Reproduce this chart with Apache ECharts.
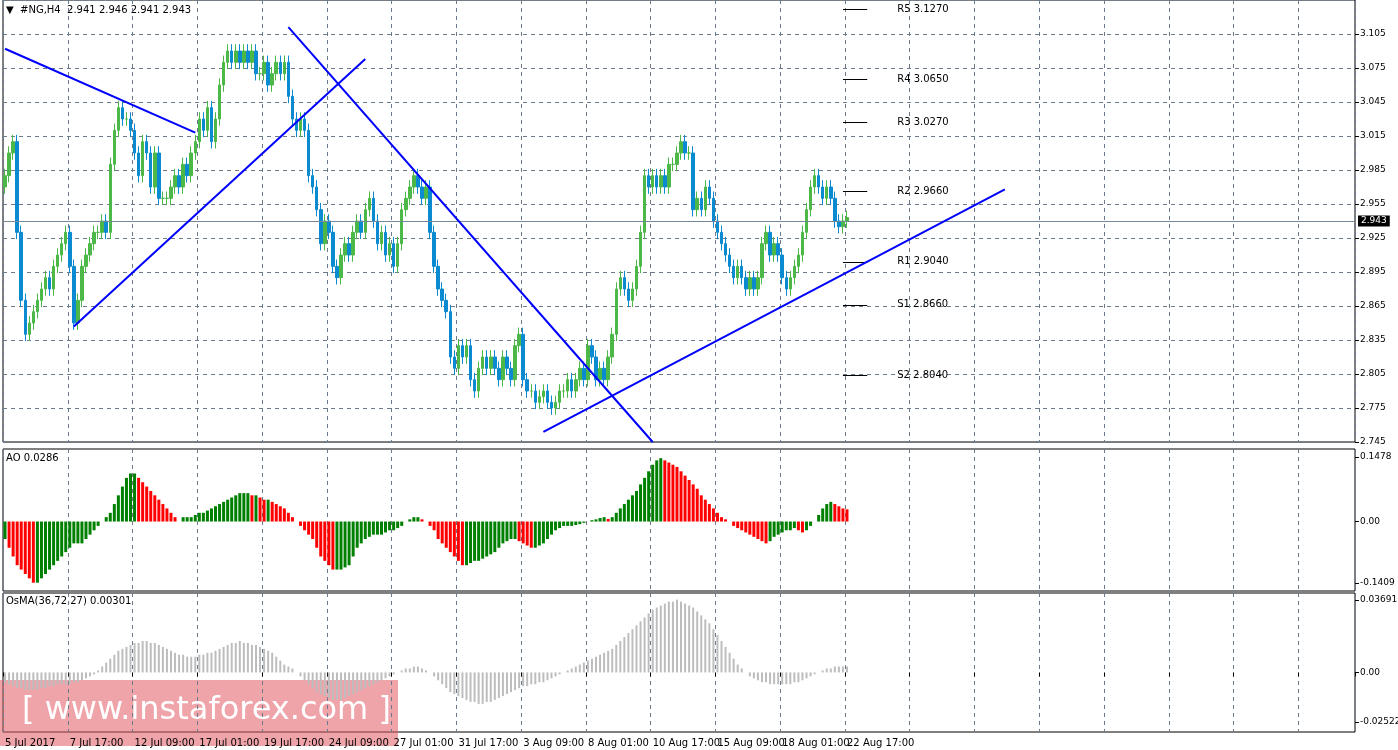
<!DOCTYPE html>
<html>
<head>
<meta charset="utf-8">
<script src="https://cdn.jsdelivr.net/npm/echarts@6/dist/echarts.min.js"></script>
<style>html,body{margin:0;padding:0;background:#fff}#main{width:1398px;height:750px}</style>
</head>
<body>
<div id="main"></div>
<script>
// 收盘价 (H4)
var closes = [
	2.98, 3.00, 3.01, 2.93, 2.87, 2.84, 2.85, 2.86, 2.87, 2.88,
	2.89, 2.88, 2.90, 2.91, 2.92, 2.93, 2.90, 2.85, 2.87, 2.90,
	2.91, 2.92, 2.93, 2.93, 2.94, 2.93, 2.99, 3.02, 3.04, 3.03,
	3.03, 3.02, 3.00, 2.98, 3.01, 3.00, 2.97, 3.00, 2.96, 2.96,
	2.96, 2.97, 2.98, 2.97, 2.99, 2.98, 3.00, 3.01, 3.03, 3.02,
	3.04, 3.01, 3.03, 3.06, 3.08, 3.09, 3.08, 3.09, 3.08, 3.09,
	3.08, 3.09, 3.07, 3.07, 3.08, 3.06, 3.07, 3.08, 3.07, 3.08,
	3.05, 3.03, 3.02, 3.03, 3.02, 2.98, 2.97, 2.95, 2.92, 2.94,
	2.93, 2.90, 2.89, 2.91, 2.92, 2.91, 2.93, 2.94, 2.93, 2.95,
	2.96, 2.94, 2.92, 2.93, 2.91, 2.92, 2.90, 2.92, 2.95, 2.96,
	2.97, 2.98, 2.97, 2.96, 2.97, 2.93, 2.90, 2.88, 2.87, 2.86,
	2.82, 2.81, 2.83, 2.82, 2.83, 2.80, 2.79, 2.81, 2.82, 2.81,
	2.82, 2.81, 2.80, 2.82, 2.81, 2.80, 2.83, 2.84, 2.80, 2.79,
	2.79, 2.78, 2.785, 2.79, 2.78, 2.775, 2.78, 2.79, 2.79, 2.80,
	2.79, 2.80, 2.81, 2.80, 2.83, 2.82, 2.80, 2.81, 2.80, 2.82,
	2.84, 2.88, 2.89, 2.88, 2.87, 2.88, 2.90, 2.93, 2.98, 2.97,
	2.98, 2.97, 2.98, 2.97, 2.99, 2.99, 3.00, 3.01, 3.00, 3.00,
	2.95, 2.96, 2.95, 2.97, 2.96, 2.94, 2.93, 2.92, 2.91, 2.90,
	2.89, 2.90, 2.89, 2.88, 2.89, 2.88, 2.89, 2.92, 2.93, 2.91,
	2.92, 2.91, 2.89, 2.88, 2.89, 2.90, 2.91, 2.93, 2.95, 2.97,
	2.98, 2.97, 2.96, 2.97, 2.96, 2.94, 2.935, 2.94, 2.943
];
var aoValues = [
	-0.04,-0.06,-0.08,-0.10,-0.11,-0.12,-0.13,-0.14,-0.14,-0.13,
	-0.12,-0.11,-0.10,-0.09,-0.08,-0.07,-0.06,-0.05,-0.05,-0.05,
	-0.04,-0.03,-0.02,-0.01,0.00,0.01,0.02,0.04,0.06,0.08,
	0.10,0.11,0.11,0.10,0.09,0.08,0.07,0.06,0.05,0.04,
	0.03,0.02,0.01,0.00,0.01,0.01,0.01,0.015,0.02,0.02,
	0.025,0.03,0.035,0.04,0.045,0.05,0.055,0.06,0.065,0.065,
	0.065,0.06,0.06,0.055,0.05,0.05,0.045,0.04,0.035,0.03,
	0.02,0.01,0.00,-0.01,-0.02,-0.03,-0.04,-0.06,-0.08,-0.09,
	-0.10,-0.11,-0.11,-0.11,-0.105,-0.10,-0.08,-0.06,-0.05,-0.04,
	-0.035,-0.03,-0.03,-0.03,-0.025,-0.02,-0.02,-0.015,-0.01,0.00,
	0.005,0.01,0.01,0.005,0.00,-0.01,-0.02,-0.04,-0.05,-0.06,
	-0.07,-0.08,-0.09,-0.10,-0.10,-0.095,-0.09,-0.09,-0.085,-0.08,
	-0.075,-0.07,-0.06,-0.05,-0.045,-0.04,-0.04,-0.045,-0.05,-0.055,
	-0.06,-0.06,-0.055,-0.05,-0.04,-0.03,-0.02,-0.015,-0.01,-0.01,
	-0.01,-0.008,-0.006,-0.003,0.00,0.003,0.005,0.008,0.01,0.006,
	0.01,0.02,0.03,0.04,0.05,0.06,0.07,0.085,0.10,0.115,
	0.13,0.14,0.145,0.14,0.135,0.13,0.125,0.115,0.105,0.095,
	0.085,0.075,0.06,0.05,0.04,0.03,0.02,0.01,0.005,0.00,
	-0.01,-0.015,-0.02,-0.025,-0.03,-0.035,-0.04,-0.045,-0.05,-0.045,
	-0.035,-0.03,-0.025,-0.02,-0.02,-0.015,-0.02,-0.025,-0.02,-0.01,
	0.00,0.015,0.03,0.04,0.045,0.04,0.035,0.03,0.028
];
var osmaValues = [
	-0.005,-0.006,-0.007,-0.008,-0.008,-0.009,-0.009,-0.009,-0.009,-0.008,
	-0.008,-0.007,-0.007,-0.006,-0.006,-0.006,-0.006,-0.005,-0.005,-0.004,
	-0.003,-0.002,-0.001,0.001,0.003,0.005,0.007,0.009,0.011,0.012,
	0.013,0.014,0.015,0.015,0.016,0.016,0.015,0.015,0.014,0.013,
	0.012,0.011,0.010,0.009,0.009,0.008,0.008,0.008,0.009,0.009,
	0.010,0.010,0.011,0.012,0.013,0.014,0.015,0.015,0.016,0.015,
	0.015,0.014,0.014,0.013,0.012,0.011,0.010,0.008,0.006,0.004,
	0.003,0.002,0.000,-0.002,-0.004,-0.006,-0.008,-0.010,-0.011,-0.012,
	-0.013,-0.014,-0.014,-0.014,-0.013,-0.012,-0.011,-0.010,-0.009,-0.008,
	-0.007,-0.006,-0.005,-0.004,-0.003,-0.002,-0.001,0.000,0.001,0.002,
	0.002,0.003,0.003,0.002,0.001,0.000,-0.002,-0.004,-0.006,-0.008,
	-0.010,-0.011,-0.012,-0.013,-0.014,-0.015,-0.015,-0.016,-0.016,-0.015,
	-0.015,-0.014,-0.013,-0.012,-0.011,-0.010,-0.009,-0.008,-0.007,-0.007,
	-0.006,-0.006,-0.005,-0.005,-0.004,-0.003,-0.002,-0.001,0.000,0.001,
	0.002,0.003,0.004,0.005,0.006,0.007,0.008,0.009,0.010,0.011,
	0.012,0.014,0.016,0.018,0.020,0.022,0.024,0.026,0.028,0.030,
	0.032,0.033,0.034,0.035,0.036,0.036,0.037,0.036,0.035,0.034,
	0.033,0.031,0.029,0.027,0.025,0.022,0.019,0.016,0.013,0.010,
	0.007,0.004,0.002,0.000,-0.002,-0.003,-0.004,-0.005,-0.005,-0.006,
	-0.006,-0.006,-0.006,-0.006,-0.006,-0.005,-0.005,-0.004,-0.003,-0.002,
	-0.001,0.000,0.001,0.002,0.002,0.003,0.003,0.003,0.003
];
// 每16根K线一个时间标签
var dateLabels = ['5 Jul 2017', '7 Jul 17:00', '12 Jul 09:00', '17 Jul 01:00', '19 Jul 17:00',
	'24 Jul 09:00', '27 Jul 01:00', '31 Jul 17:00', '3 Aug 09:00', '8 Aug 01:00',
	'10 Aug 17:00', '15 Aug 09:00', '18 Aug 01:00', '22 Aug 17:00'];
var pivotNames = ['R5', 'R4', 'R3', 'R2', 'R1', 'S1', 'S2', 'S3'];
var pivotValues = [3.1270, 3.0650, 3.0270, 2.9660, 2.9040, 2.8660, 2.8040, 2.7420];
var trendLines = [
	[[0, 3.092], [47.4, 3.018]],
	[[17, 2.847], [89.4, 3.083]],
	[[69.6, 3.111], [159.8, 2.745]],
	[[133.3, 2.754], [247, 2.968]]
];
var lastPrice = 2.943;

var TOTAL = 334;
var cats = [];
for (var i = 0; i < TOTAL; i++) cats.push(i);

var candles = closes.map(function(c, i) {
	var o = i === 0 ? c - 0.01 : closes[i - 1];
	return [o, c, Math.min(o, c) - 0.006, Math.max(o, c) + 0.006];
});
var aoData = aoValues.map(function(v, i) {
	var up = i === 0 || v >= aoValues[i - 1];
	return { value: v, itemStyle: { color: up ? '#008000' : '#ff0000' } };
});

var font = 'DejaVu Sans';
var gridCol = '#6b7b8b';
var lbl = { color: '#000', fontSize: 9, fontFamily: font };

function xAx(idx, showLabels) {
	return {
		type: 'category', gridIndex: idx, data: cats, boundaryGap: true,
		axisLine: { show: false },
		axisTick: { show: showLabels, interval: 15, length: 4, lineStyle: { color: '#000' } },
		axisLabel: showLabels ? {
			show: true, interval: 15, align: 'left', margin: 6, color: '#000', fontSize: 10, fontFamily: font,
			formatter: function(v, n) { return dateLabels[n / 16] || ''; }
		} : { show: false },
		splitLine: { show: true, interval: 15, lineStyle: { color: gridCol, type: [4, 4] } }
	};
}
function yAx(idx, min, max, vals, txt) {
	return {
		type: 'value', gridIndex: idx, position: 'right', min: min, max: max, scale: true,
		axisLine: { show: false },
		axisTick: { show: true, customValues: vals, length: 4, lineStyle: { color: '#000' } },
		axisLabel: Object.assign({ customValues: vals, margin: 5, formatter: function(v) {
			return txt[vals.indexOf(v)] || '';
		} }, lbl),
		splitLine: { show: false }
	};
}

var chart = echarts.init(document.getElementById('main'));
var pivotLines = pivotValues.map(function(v, i) {
	return [{ coord: [207, v], lineStyle: { color: '#000', width: 1, type: 'solid' },
		label: { show: true, position: 'end', distance: 30, padding: [12, 0, 0, 0],
		formatter: pivotNames[i] + ' ' + v.toFixed(4), color: '#000', fontSize: 10, fontFamily: font } },
		{ coord: [212.5, v] }];
});
var trendData = trendLines.map(function(l) {
	return [{ coord: l[0], lineStyle: { color: '#0000ff', width: 2, type: 'solid' }, label: { show: false } }, { coord: l[1] }];
});

var gridBase = { left: 3, width: 1352, show: true, borderColor: '#000', borderWidth: 1, outerBoundsMode: 'none', containLabel: false };
chart.setOption({
	animation: false,
	backgroundColor: '#fff',
	grid: [
		Object.assign({ top: 0, height: 442 }, gridBase),
		Object.assign({ top: 449, height: 142 }, gridBase),
		Object.assign({ top: 593, height: 139 }, gridBase)
	],
	xAxis: [xAx(0, false), xAx(1, false), xAx(2, true)],
	yAxis: [
		{
			type: 'value', gridIndex: 0, position: 'right', min: 2.745, max: 3.135, interval: 0.03,
			axisLine: { show: false },
			axisTick: { show: true, length: 4, lineStyle: { color: '#000' } },
			axisLabel: Object.assign({ margin: 5, showMaxLabel: false, formatter: function(v) { return v.toFixed(3); } }, lbl),
			splitLine: { show: true, lineStyle: { color: gridCol, type: [4, 4] } }
		},
		yAx(1, -0.159, 0.166, [-0.1409, 0, 0.1478], ['-0.1409', '0.00', '0.1478']),
		yAx(2, -0.0303, 0.0404, [-0.02522, 0, 0.03691], ['-0.02522', '0.00', '0.03691'])
	],
	series: [
		{
			type: 'candlestick', xAxisIndex: 0, yAxisIndex: 0, data: candles, barWidth: 3,
			itemStyle: { color: '#4cb848', color0: '#0a8ad0', borderColor: '#4cb848', borderColor0: '#0a8ad0', borderWidth: 1 },
			markLine: {
				silent: true, symbol: 'none', animation: false,
				data: [{
					yAxis: lastPrice,
					lineStyle: { color: '#778899', width: 1, type: 'solid' },
					label: { show: true, position: 'end', distance: 3, formatter: lastPrice.toFixed(3),
						backgroundColor: '#000', color: '#fff', fontSize: 9, fontFamily: font, padding: [1, 3] }
				}].concat(pivotLines).concat(trendData)
			}
		},
		{ type: 'bar', xAxisIndex: 1, yAxisIndex: 1, data: aoData, barWidth: 3 },
		{ type: 'bar', xAxisIndex: 2, yAxisIndex: 2, data: osmaValues, barWidth: 2, itemStyle: { color: '#bdbdbd' } }
	],
	graphic: [
		{ type: 'text', left: 6, top: 5, style: { text: '▼  #NG,H4  2.941 2.946 2.941 2.943', fill: '#000', font: '10px DejaVu Sans' } },
		{ type: 'text', left: 6, top: 453, style: { text: 'AO 0.0286', fill: '#000', font: '10px DejaVu Sans' } },
		{ type: 'text', left: 6, top: 596, style: { text: 'OsMA(36,72,27) 0.00301', fill: '#000', font: '10px DejaVu Sans' } },
		{ type: 'rect', shape: { x: 0, y: 680, width: 398, height: 66 }, style: { fill: 'rgba(225,90,100,0.55)' } },
		{ type: 'text', x: 22, y: 695, style: { text: '[ www.instaforex.com ]', fill: '#fff', font: '32px DejaVu Sans' } }
	]
});
</script>
</body>
</html>
